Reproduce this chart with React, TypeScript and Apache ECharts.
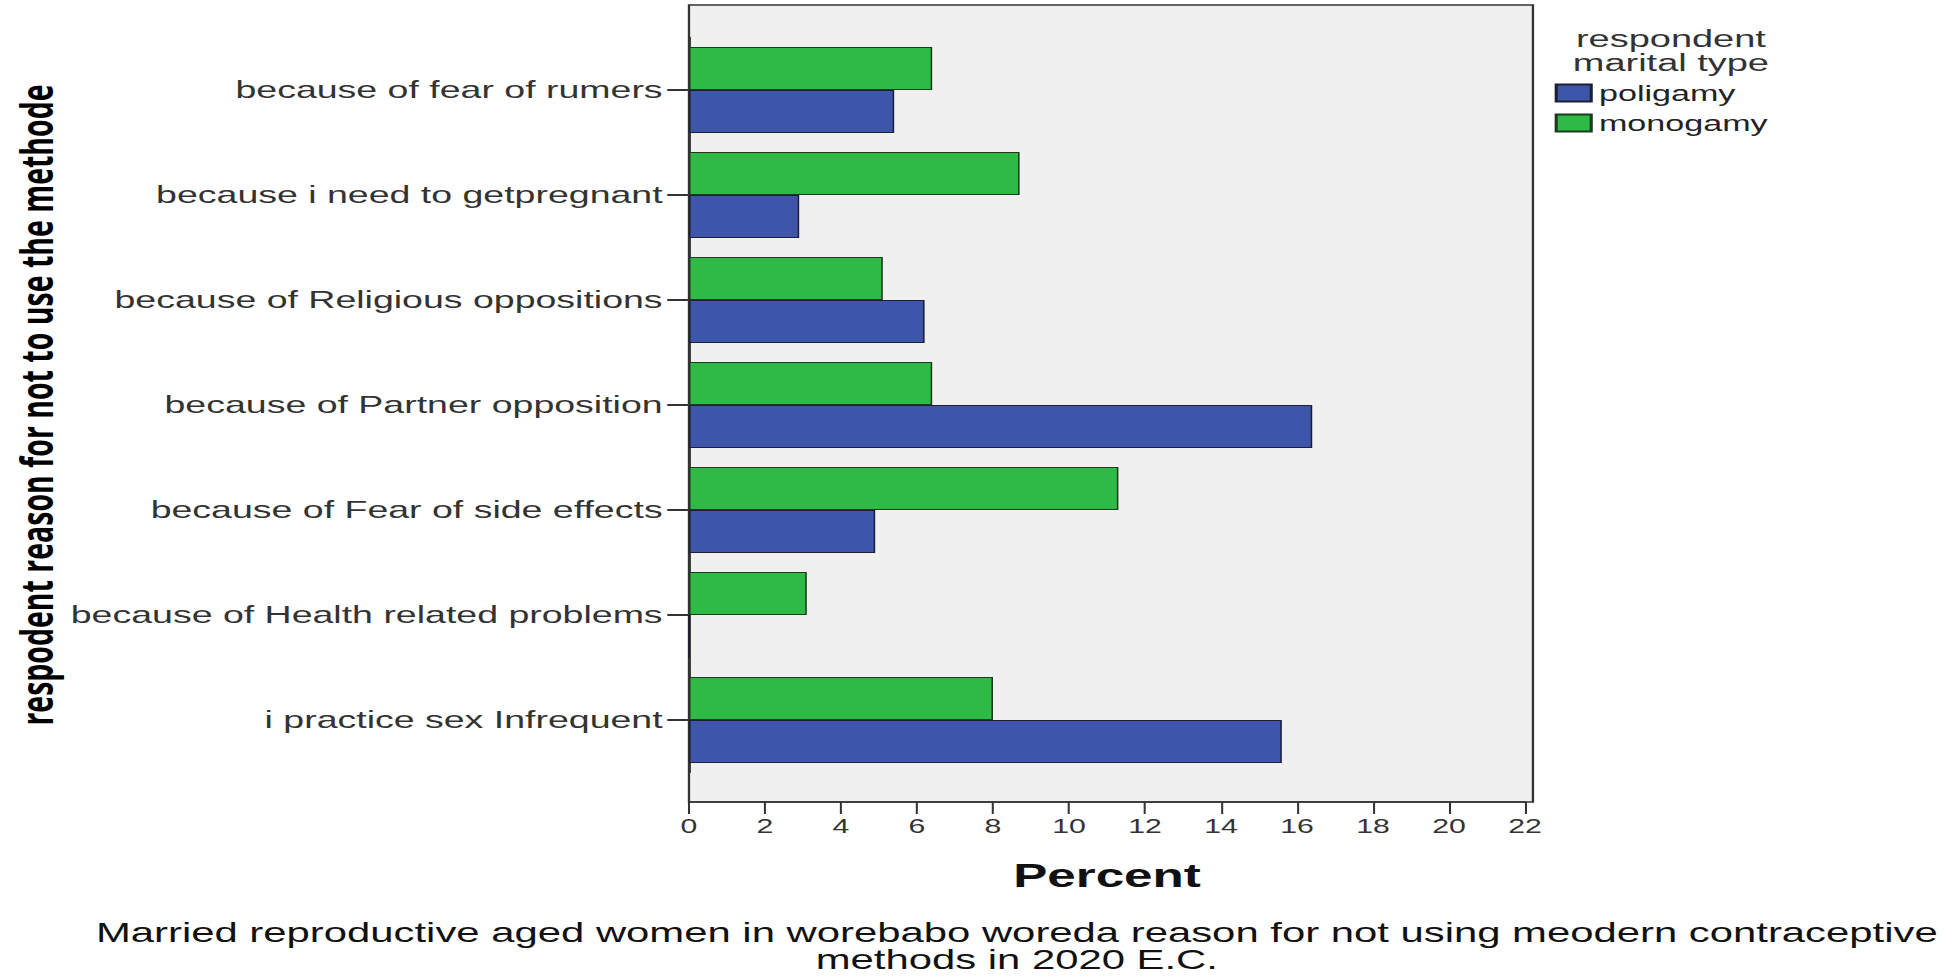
import React, { useEffect, useRef } from "react";
import * as echarts from "echarts";

const categories = [
  "because of fear of rumers",
  "because i need to getpregnant",
  "because of Religious oppositions",
  "because of Partner opposition",
  "because of Fear of side effects",
  "because of Health related problems",
  "i practice sex Infrequent",
];
const poligamy = [5.4, 2.9, 6.2, 16.4, 4.9, 0, 15.6];
const monogamy = [6.4, 8.7, 5.1, 6.4, 11.3, 3.1, 8.0];
const seriesNames = ["poligamy", "monogamy"];
const xMin = 0;
const xMax = 22;
const xInterval = 2;
const legendTitle = "respondent\nmarital type";
const xName = "Percent";
const yName = "respodent reason for not to use the methode";
const caption =
  "Married reproductive aged women in worebabo woreda reason for not using meodern contraceptive\nmethods in 2020 E.C.";

const STRETCH = 1.55;
const W = 1960 / STRETCH;
const H = 980;

export default function App() {
  const ref = useRef<HTMLDivElement>(null);
  useEffect(() => {
    if (!ref.current) return;
    const chart = echarts.init(ref.current, null, { renderer: "svg" });
    const font = "Liberation Sans";
    chart.setOption({
      animation: false,
      backgroundColor: "#ffffff",
      title: [
        {
          text: legendTitle,
          left: 1073,
          top: 21,
          textAlign: "center",
          textStyle: { fontFamily: font, fontSize: 24.5, lineHeight: 24.5, fontWeight: "normal", color: "#333" },
        },
        {
          text: caption,
          left: 651,
          top: 914,
          textAlign: "center",
          textStyle: { fontFamily: font, fontSize: 27, lineHeight: 27, fontWeight: "normal", color: "#111" },
        },
      ],
      legend: {
        data: seriesNames,
        orient: "vertical",
        left: 998,
        top: 77,
        itemWidth: 22.6,
        itemHeight: 17,
        itemGap: 8,
        icon: "rect",
        selectedMode: false,
        textStyle: { fontFamily: font, fontSize: 22, lineHeight: 20, color: "#222" },
      },
      grid: [
        {
          left: 444.5,
          top: 5,
          width: 544.5,
          height: 797,
          show: true,
          backgroundColor: "#f0f0f0",
          borderColor: "#333",
          borderWidth: 1.5,
        },
        { left: 444.5, top: 37.5, width: 539.4, height: 735 },
      ],
      xAxis: [
        { gridIndex: 0, type: "value", min: 0, max: 1, show: false },
        {
          gridIndex: 1,
          type: "value",
          min: xMin,
          max: xMax,
          interval: xInterval,
          position: "bottom",
          offset: 29.5,
          axisLine: { show: true, lineStyle: { color: "#333", width: 1.5 } },
          axisTick: { show: true, length: 12, lineStyle: { color: "#333", width: 1.3 } },
          axisLabel: { fontFamily: font, fontSize: 19.5, color: "#333", margin: 14 },
          splitLine: { show: false },
          name: xName,
          nameLocation: "middle",
          nameGap: 57,
          nameTextStyle: { fontFamily: font, fontSize: 33, fontWeight: "bold", color: "#111" },
        },
      ],
      yAxis: [
        { gridIndex: 0, type: "value", show: false },
        {
          gridIndex: 1,
          type: "category",
          inverse: true,
          data: categories,
          axisLine: { show: true, lineStyle: { color: "#333", width: 1.5 } },
          axisTick: { show: true, alignWithLabel: true, interval: 0, length: 14, lineStyle: { color: "#333", width: 2 } },
          axisLabel: { fontFamily: font, fontSize: 24.2, color: "#333", margin: 17, interval: 0 },
          name: yName,
          nameLocation: "middle",
          nameRotate: 90,
          nameGap: 407,
          nameTextStyle: { fontFamily: "Open Sans", fontSize: 28.5, fontWeight: "bold", color: "#000" },
        },
      ],
      series: [
        {
          type: "bar",
          name: seriesNames[1],
          xAxisIndex: 1,
          yAxisIndex: 1,
          data: monogamy,
          barWidth: 43,
          barGap: "0%",
          itemStyle: { color: "#2fb947", borderColor: "#1b3a1e", borderWidth: 1 },
        },
        {
          type: "bar",
          name: seriesNames[0],
          xAxisIndex: 1,
          yAxisIndex: 1,
          data: poligamy,
          barWidth: 43,
          barGap: "0%",
          itemStyle: { color: "#3e56a9", borderColor: "#1c1f35", borderWidth: 1 },
        },
      ],
    });
    return () => chart.dispose();
  }, []);
  return (
    <div
      ref={ref}
      style={{
        position: "fixed",
        left: 0,
        top: 0,
        width: W,
        height: H,
        transform: `scaleX(${STRETCH})`,
        transformOrigin: "0 0",
      }}
    />
  );
}
